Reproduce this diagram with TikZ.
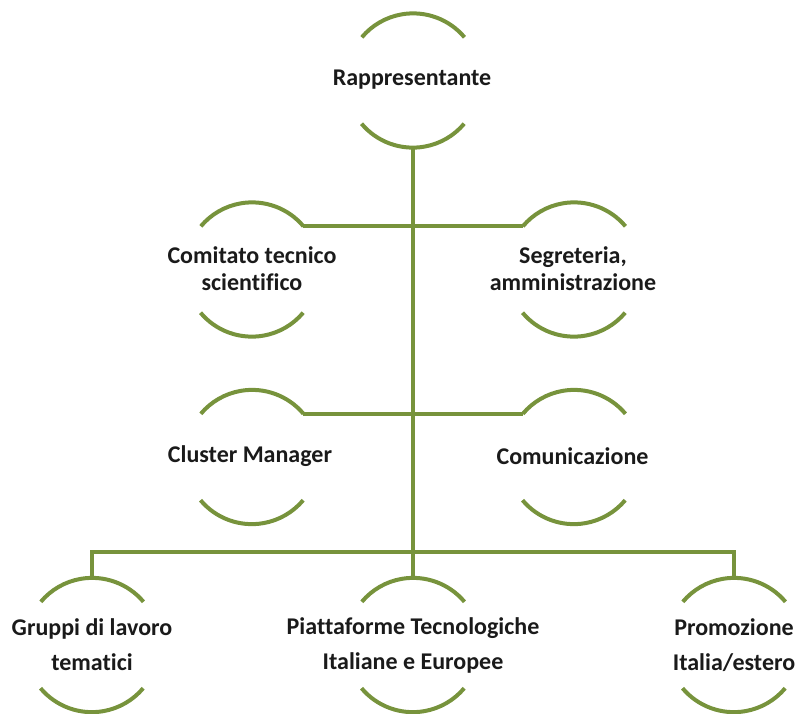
\documentclass[tikz,border=0pt]{standalone}
\usepackage{fontspec}
\setmainfont{Carlito}[Ligatures=NoCommon]
\definecolor{olive}{HTML}{77933C}
\definecolor{txt}{HTML}{1A1A1A}
\tikzset{
  ring/.style={circle, minimum size=134pt, inner sep=0pt, draw=none},
  lbl/.style={font=\bfseries\fontsize{24}{27}\selectfont, text=txt, align=center, inner sep=0pt},
  lblwide/.style={font=\bfseries\fontsize{24}{35}\selectfont, text=txt, align=center, inner sep=0pt},
  arcline/.style={draw=olive, line width=4pt},
  conn/.style={draw=olive, line width=4pt}
}
\begin{document}
\begin{tikzpicture}[x=1pt,y=1pt]
\useasboundingbox (0,0) rectangle (797,-713);
% ring positions
\node[ring] (rap) at (413,-80.5) {};
\node[ring] (com) at (252,-269.5) {};
\node[ring] (seg) at (574,-269.5) {};
\node[ring] (clu) at (252,-457) {};
\node[ring] (comu) at (574,-457) {};
\node[ring] (gru) at (92,-645) {};
\node[ring] (pia) at (413,-645) {};
\node[ring] (pro) at (734,-645) {};
\coordinate (bus) at (413,-552);
% arcs
\foreach \n in {rap,com,seg,clu,comu,gru,pia,pro}{
  \draw[arcline] (\n.40) arc[start angle=40, end angle=140, radius=67pt];
  \draw[arcline] (\n.220) arc[start angle=220, end angle=320, radius=67pt];
}
% connectors
\draw[conn] (rap.south) -- (pia.north);
\draw[conn] (com.40) -- (seg.140);
\draw[conn] (clu.40) -- (comu.140);
\draw[conn] (gru.north) |- (bus) -| (pro.north);
% labels
\node[lbl] (rapT) at (412,-80) {Rappresentante};
\node[lbl] (comT) at (252,-268.5) {Comitato tecnico\\scientifico};
\node[lbl] (segT) at (573,-268.5) {Segreteria,\\amministrazione};
\node[lbl] (cluT) at (250,-456) {Cluster Manager};
\node[lbl] (comuT) at (572.5,-456) {Comunicazione};
\node[lblwide] (gruT) at (92,-645) {Gruppi di lavoro\\tematici};
\node[lblwide] (piaT) at (413,-645) {Piattaforme Tecnologiche\\Italiane e Europee};
\node[lblwide] (proT) at (734,-645) {Promozione\\Italia/estero};
\end{tikzpicture}
\end{document}
